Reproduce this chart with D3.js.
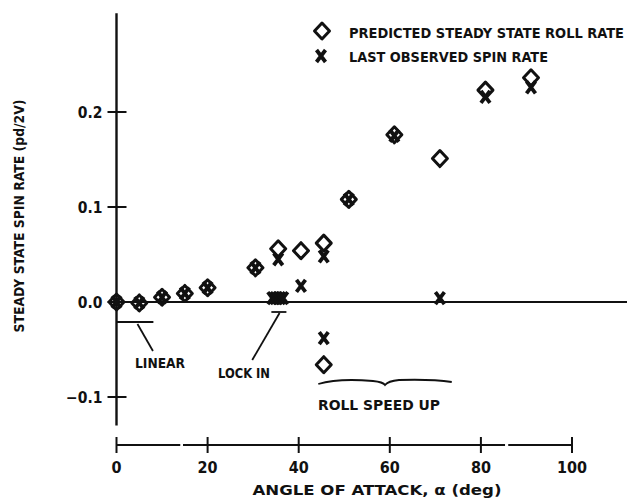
<!DOCTYPE html>
<html>
<head>
<meta charset="utf-8">
<script src="https://cdn.jsdelivr.net/npm/d3@7"></script>
<style>
  html, body { margin: 0; padding: 0; background: #fff; }
  svg { display: block; }
  text { font-family: "Liberation Sans Narrow", "DejaVu Sans Condensed", "Arial Narrow", sans-serif; font-weight: bold; fill: #111; }
</style>
</head>
<body>
<svg id="chart" width="627" height="500"></svg>
<script>
// Predicted steady-state roll rate (diamonds)
const predictedAlpha = [0, 5, 10, 15, 20, 30.5, 35.5, 40.5, 45.5, 45.5, 51, 61, 71, 81, 91];
const predictedRate  = [0, -0.001, 0.005, 0.009, 0.015, 0.036, 0.056, 0.054, 0.062, -0.066, 0.108, 0.176, 0.151, 0.223, 0.236];

// Last observed spin rate (crosses)
const observedAlpha = [0, 5, 10, 15, 20, 30.5, 34.2, 34.8, 35.4, 36.0, 36.6, 35.5, 40.5, 45.5, 45.5, 51, 61, 71, 81, 91];
const observedRate  = [0, -0.001, 0.005, 0.009, 0.015, 0.036, 0.004, 0.004, 0.004, 0.004, 0.004, 0.045, 0.017, 0.048, -0.038, 0.108, 0.175, 0.004, 0.216, 0.226];

// Axis ticks
const xTicks = [0, 20, 40, 60, 80, 100];
const xTickLabels = ["0", "20", "40", "60", "80", "100"];
const yTicks = [-0.1, 0, 0.1, 0.2];
const yTickLabels = ["\u22120.1", "0.0", "0.1", "0.2"];

const svg = d3.select("#chart");
const ink = "#111";

const x = d3.scaleLinear().domain([0, 100]).range([116.5, 572]);
const y = d3.scaleLinear().domain([-0.1, 0.2]).range([397, 112]);

// Vertical axis spine with crossing ticks
svg.append("line")
  .attr("x1", x(0)).attr("x2", x(0))
  .attr("y1", y(0.304)).attr("y2", y(-0.13))
  .attr("stroke", ink).attr("stroke-width", 2.4);

svg.selectAll(".ytick").data(yTicks).join("line")
  .attr("x1", x(0) - 9).attr("x2", x(0) + 10)
  .attr("y1", d => y(d)).attr("y2", d => y(d))
  .attr("stroke", ink).attr("stroke-width", 2);

svg.selectAll(".ylab").data(yTicks).join("text")
  .attr("x", x(0) - 14).attr("y", d => y(d) + 6)
  .attr("text-anchor", "end").attr("font-size", 15.5)
  .text((d, i) => yTickLabels[i]);

// Zero reference line across the plot
svg.append("line")
  .attr("x1", x(0)).attr("x2", 627)
  .attr("y1", y(0)).attr("y2", y(0))
  .attr("stroke", ink).attr("stroke-width", 2);

// Horizontal axis, drawn below the plot
const xAxisY = 445;
const xSegs = [[0, 14], [14.6, 85.3], [86, 100]];
svg.selectAll(".xseg").data(xSegs).join("line")
  .attr("x1", d => x(d[0])).attr("x2", d => x(d[1]))
  .attr("y1", xAxisY).attr("y2", xAxisY)
  .attr("stroke", ink).attr("stroke-width", 2);

svg.selectAll(".xtick").data(xTicks).join("line")
  .attr("x1", d => x(d)).attr("x2", d => x(d))
  .attr("y1", xAxisY - 8).attr("y2", xAxisY + 8)
  .attr("stroke", ink).attr("stroke-width", 2);

svg.selectAll(".xlab").data(xTicks).join("text")
  .attr("x", d => x(d)).attr("y", 473)
  .attr("text-anchor", "middle").attr("font-size", 16)
  .text((d, i) => xTickLabels[i]);

svg.append("text")
  .attr("x", 377).attr("y", 495)
  .attr("text-anchor", "middle").attr("font-size", 14)
  .attr("textLength", 249).attr("lengthAdjust", "spacingAndGlyphs")
  .text("ANGLE OF ATTACK, \u03b1 (deg)");

svg.append("text")
  .attr("transform", "translate(24,216) rotate(-90)")
  .attr("text-anchor", "middle").attr("font-size", 14)
  .attr("textLength", 233).attr("lengthAdjust", "spacingAndGlyphs")
  .text("STEADY STATE SPIN RATE (pd/2V)");

// Marker shapes
const diamondPath = "M0,-8L7.5,0L0,8L-7.5,0Z";
const crossPath = "M-4.5,-6L4.5,6M4.5,-6L-4.5,6";

const predicted = predictedAlpha.map((a, i) => ({ a, v: predictedRate[i] }));
const observed = observedAlpha.map((a, i) => ({ a, v: observedRate[i] }));

svg.selectAll(".obs").data(observed).join("path")
  .attr("transform", d => `translate(${x(d.a)},${y(d.v)})`)
  .attr("d", crossPath)
  .attr("fill", "none").attr("stroke", ink).attr("stroke-width", 3.8);

svg.selectAll(".pred").data(predicted).join("path")
  .attr("transform", d => `translate(${x(d.a)},${y(d.v)})`)
  .attr("d", diamondPath)
  .attr("fill", "none").attr("stroke", ink).attr("stroke-width", 3)
  .attr("stroke-linejoin", "round");

// Legend
svg.append("path").attr("transform", "translate(322,31)").attr("d", diamondPath)
  .attr("fill", "none").attr("stroke", ink).attr("stroke-width", 3).attr("stroke-linejoin", "round");
svg.append("text").attr("x", 349).attr("y", 38).attr("font-size", 14)
  .attr("textLength", 275).attr("lengthAdjust", "spacingAndGlyphs")
  .text("PREDICTED STEADY STATE ROLL RATE");
svg.append("path").attr("transform", "translate(321,56)").attr("d", crossPath)
  .attr("fill", "none").attr("stroke", ink).attr("stroke-width", 3.8);
svg.append("text").attr("x", 349).attr("y", 62).attr("font-size", 14)
  .attr("textLength", 199).attr("lengthAdjust", "spacingAndGlyphs")
  .text("LAST OBSERVED SPIN RATE");

// Annotation: LINEAR region
svg.append("line").attr("x1", x(0)).attr("x2", x(8.1)).attr("y1", 322).attr("y2", 322)
  .attr("stroke", ink).attr("stroke-width", 1.8);
svg.append("line").attr("x1", x(4.6)).attr("x2", x(8)).attr("y1", 324).attr("y2", 351)
  .attr("stroke", ink).attr("stroke-width", 1.8);
svg.append("text").attr("x", 135).attr("y", 368).attr("font-size", 14)
  .attr("textLength", 50).attr("lengthAdjust", "spacingAndGlyphs").text("LINEAR");

// Annotation: LOCK IN region
svg.append("line").attr("x1", x(34)).attr("x2", x(37.3)).attr("y1", 312).attr("y2", 312)
  .attr("stroke", ink).attr("stroke-width", 1.8);
svg.append("line").attr("x1", x(35.8)).attr("x2", x(29.8)).attr("y1", 313).attr("y2", 360)
  .attr("stroke", ink).attr("stroke-width", 1.8);
svg.append("text").attr("x", 218).attr("y", 378).attr("font-size", 14)
  .attr("textLength", 52).attr("lengthAdjust", "spacingAndGlyphs").text("LOCK IN");

// Annotation: ROLL SPEED UP brace
const bx0 = x(44.3), bx1 = x(73.6), bm = (bx0 + bx1) / 2;
svg.append("path")
  .attr("d", `M${bx0},${384} Q${bx0 + 20},${378} ${bm - 12},${381} Q${bm - 2},${382} ${bm},${385} Q${bm + 3},${381} ${bm + 14},${380} Q${bx1 - 20},${379} ${bx1},${382}`)
  .attr("fill", "none").attr("stroke", ink).attr("stroke-width", 1.8);
svg.append("text").attr("x", 318).attr("y", 410).attr("font-size", 14)
  .attr("textLength", 122).attr("lengthAdjust", "spacingAndGlyphs").text("ROLL  SPEED UP");
</script>
</body>
</html>
